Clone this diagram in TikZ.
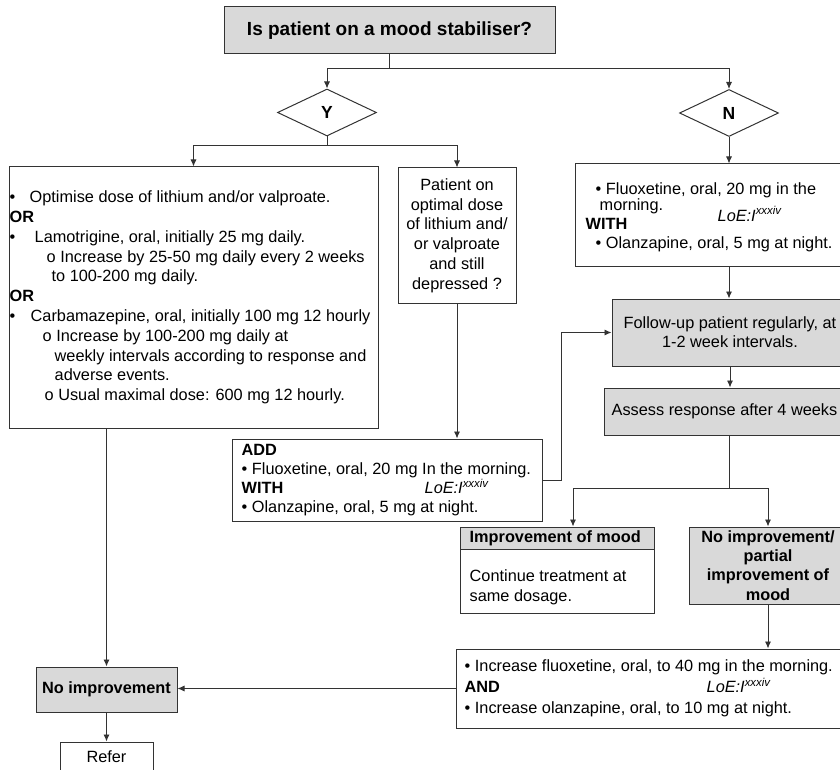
\documentclass[tikz,border=0pt]{standalone}
\usepackage{fontspec}
\setmainfont{Liberation Sans}
\usetikzlibrary{shapes.geometric, arrows.meta}
\definecolor{colorBox}{HTML}{D9D9D9}
\definecolor{colorLine}{HTML}{333333}
\newcommand{\loe}{\textit{LoE:I\textsuperscript{xxxiv}}}
\newcommand{\wbul}[1]{\makebox[#1][l]{\textbullet}}

\tikzset{
  box/.style={draw=colorLine, line width=1pt, inner sep=0pt},
  greybox/.style={box, fill=colorBox},
  txt/.style={font=\fontsize{16.3pt}{#1}\selectfont, inner sep=0pt},
  txt/.default=19.8pt,
  bold/.style={font=\fontsize{16.3pt}{19.3pt}\selectfont\bfseries, inner sep=0pt},
  arr/.style={draw=colorLine, line width=0.9pt, -{Latex[length=7pt,width=6pt]}},
}

\begin{document}
\begin{tikzpicture}[x=1pt, y=-1pt]
        \useasboundingbox (0,0) rectangle (840,770);
        \clip (0,0) rectangle (840,770);
        % question and answers
        \node[greybox, minimum width=331pt, minimum height=47pt, font=\fontsize{19pt}{22pt}\selectfont\bfseries] (top) at (389.5,30.5) {Is patient on a mood stabiliser?};
        \node[box, diamond, minimum width=99pt, minimum height=47pt, font=\fontsize{17.5pt}{20pt}\selectfont\bfseries] (yes) at (327,112.5) {Y};
        \node[box, diamond, minimum width=99pt, minimum height=47pt, font=\fontsize{17.5pt}{20pt}\selectfont\bfseries] (no) at (729,113) {N};
        % Y side
        \node[box, minimum width=369pt, minimum height=261pt] (optim) at (193.5,297.5) {};
        \node[txt, align=left, anchor=west] (optimtxt) at ([xshift=1pt]optim.west) {\wbul{20pt}Optimise dose of lithium and/or valproate.\\
            \textbf{OR}\\
            \wbul{25pt}Lamotrigine, oral, initially 25 mg daily.\\
            \hspace*{37pt}o Increase by 25-50 mg daily every 2 weeks\\
            \hspace*{42pt}to 100-200 mg daily.\\
            \textbf{OR}\\
            \wbul{21pt}Carbamazepine, oral, initially 100 mg 12 hourly\\
            \hspace*{33pt}o Increase by 100-200 mg daily at\\
            \hspace*{45pt}weekly intervals according to response and\\
            \hspace*{45pt}adverse events.\\
            \hspace*{35pt}o Usual maximal dose: 600 mg 12 hourly.};
        \node[box, txt, align=center, minimum width=118pt, minimum height=135pt] (mid) at (457,235.5) {Patient on\\optimal dose\\of lithium and/\\or valproate\\and still\\depressed ?};
        \node[box, minimum width=310pt, minimum height=82pt] (add) at (387,480) {};
        \node[txt=19pt, align=left, anchor=west] (addtxt) at ([xshift=10pt]add.west) {\textbf{ADD}\\
            \textbullet{} Fluoxetine, oral, 20 mg In the morning.\\
            \makebox[183pt][l]{\textbf{WITH}}\loe\\
            \textbullet{} Olanzapine, oral, 5 mg at night.};
        % N side
        \node[box, minimum width=308pt, minimum height=102pt] (fluox) at (729,215) {};
        \node[txt=19pt, align=left, anchor=west] (fluoxtxt) at ([xshift=11pt,yshift=-2pt]fluox.west) {\hspace*{10pt}\textbullet{} Fluoxetine, oral, 20 mg in the\\[-3pt]
            \makebox[132pt][l]{\hspace*{14pt}morning.}\smash{\raisebox{-11pt}{\loe}}\\
            \textbf{WITH}\\
            \hspace*{10pt}\textbullet{} Olanzapine, oral, 5 mg at night.};
        \node[greybox, txt=19pt, align=center, minimum width=236pt, minimum height=67pt] (follow) at (730,332.5) {Follow-up patient regularly, at\\1-2 week intervals.};
        \node[greybox, minimum width=250pt, minimum height=47pt] (assess) at (729,411.5) {};
        \node[txt, anchor=west] (assesstxt) at ([xshift=8pt]assess.west) {Assess response after 4 weeks};
        \node[greybox, minimum width=194pt, minimum height=22pt] (imphead) at (557,538) {};
        \node[bold, anchor=west] (impheadtxt) at ([xshift=10pt]imphead.west) {Improvement of mood};
        \node[box, minimum width=194pt, minimum height=64pt] (impbody) at (557,581) {};
        \node[txt=20pt, align=left, anchor=west] (impbodytxt) at ([xshift=10pt,yshift=-6pt]impbody.west) {Continue treatment at\\same dosage.};
        \node[greybox, bold, align=center, minimum width=158pt, minimum height=77pt] (noimp) at (768,565.5) {No improvement/\\partial\\improvement of\\mood};
        \node[box, minimum width=400pt, minimum height=79pt] (incr) at (656,688.5) {};
        \node[txt=21pt, align=left, anchor=west] (incrtxt) at ([xshift=9pt]incr.west) {\textbullet{} Increase fluoxetine, oral, to 40 mg in the morning.\\
            \makebox[242pt][l]{\textbf{AND}}\loe\\
            \textbullet{} Increase olanzapine, oral, to 10 mg at night.};
        \node[greybox, bold, minimum width=141pt, minimum height=45pt] (nomore) at (106.5,689.5) {No improvement};
        \node[box, txt, minimum width=93pt, minimum height=30pt] (refer) at (106.5,757) {Refer};
        % connectors
        \draw[arr] (top.south) -- ++(0,14) -| (yes.north);
        \draw[arr] (top.south) -- ++(0,14) -| (no.north);
        \draw[arr] (yes.south) -- ++(0,9) -| (optim.north);
        \draw[arr] (yes.south) -- ++(0,9) -| (mid.north);
        \draw[arr] (mid.south) -- (mid.south |- add.north);
        \draw[arr] (add.east) -- ++(19,0) |- (follow.west);
        \draw[arr] (no.south) -- (no.south |- fluox.north);
        \draw[arr] (fluox.south) -- (fluox.south |- follow.north);
        \draw[arr] (follow.south) -- (follow.south |- assess.north);
        \draw[arr] (assess.south) -- ++(0,53) -| ([xshift=16pt]imphead.north);
        \draw[arr] (assess.south) -- ++(0,53) -| (noimp.north);
        \draw[arr] (noimp.south) -- (noimp.south |- incr.north);
        \draw[arr] (incr.west) -- (incr.west -| nomore.east);
        \draw[arr] (optim.south -| nomore.north) -- (nomore.north);
        \draw[arr] (nomore.south) -- (refer.north);
    \end{tikzpicture}
\end{document}
